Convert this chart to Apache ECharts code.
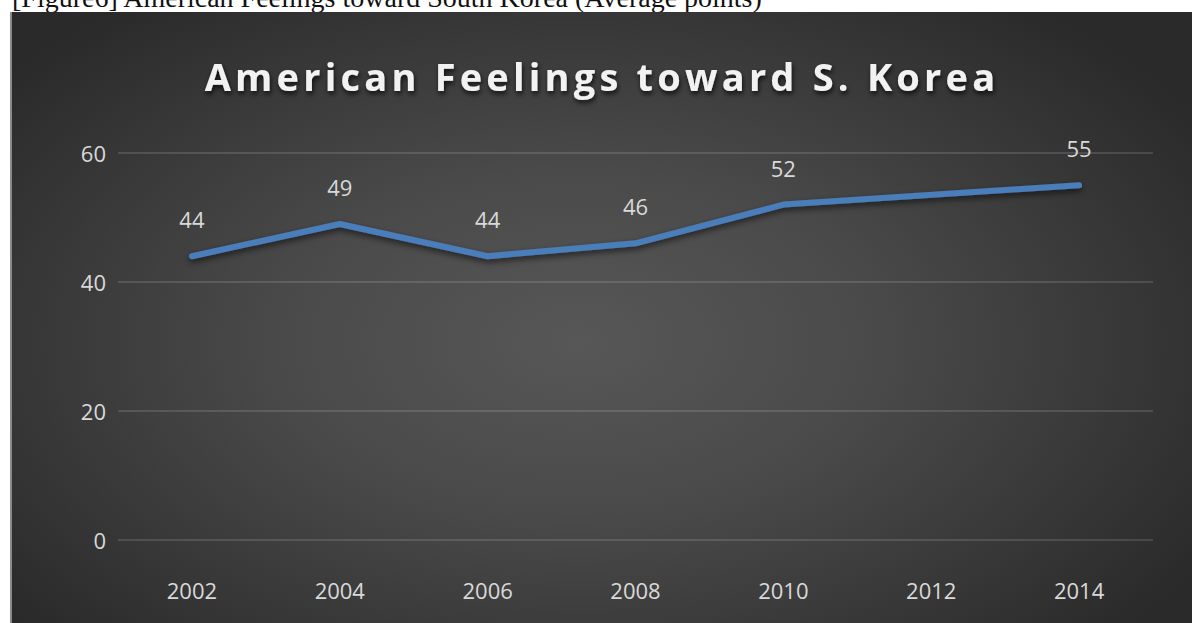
<!DOCTYPE html>
<html>
<head>
<meta charset="utf-8">
<script src="https://cdn.jsdelivr.net/npm/echarts@6/dist/echarts.min.js"></script>
<style>
  html, body { margin: 0; padding: 0; background: #ffffff; width: 1192px; height: 623px; overflow: hidden; }
  #caption {
    position: absolute; left: 12px; top: -18px;
    font-family: "Liberation Serif", "DejaVu Serif", serif;
    font-size: 28px; line-height: 32px; color: #111; white-space: nowrap;
  }
  #frame {
    position: absolute; left: 10px; top: 12px; width: 1182px; height: 611px;
    border-left: 2px solid #8a8a8a; box-sizing: border-box;
    background: radial-gradient(ellipse 62% 70% at 48% 54%, #575757 0%, #4a4a4a 40%, #393939 72%, #2a2a2a 100%);
  }
  #chart { position: absolute; left: 0; top: 0; width: 1180px; height: 611px; }
  /* widen the tracking of the chart heading */
  #chart text[style*="38px"] { letter-spacing: 4.2px; }
</style>
</head>
<body>
<div id="caption">[Figure6] American Feelings toward South Korea (Average points)</div>
<div id="frame"><div id="chart"></div></div>
<script>
// Survey years and average feeling scores (2012 has no reading)
const years = ['2002', '2004', '2006', '2008', '2010', '2012', '2014'];
const scores = [44, 49, 44, 46, 52, null, 55];
const yTicks = { min: 0, max: 60, interval: 20 };
const chartTitle = 'American Feelings toward S. Korea';

const font = '"Open Sans", "Noto Sans", sans-serif';
const chart = echarts.init(document.getElementById('chart'), null, { renderer: 'svg' });

chart.setOption({
  backgroundColor: 'transparent',
  animation: false,
  title: {
    text: chartTitle,
    left: 'center',
    top: 40,
    textStyle: {
      fontFamily: font,
      fontSize: 38,
      fontWeight: 'bold',
      color: '#f2f2f2',
      textShadowColor: 'rgba(0,0,0,0.75)',
      textShadowBlur: 5,
      textShadowOffsetX: 1,
      textShadowOffsetY: 3
    }
  },
  grid: { left: 106, right: 39, top: 141, bottom: 83 },
  xAxis: {
    type: 'category',
    data: years,
    boundaryGap: true,
    axisLine: { show: false },
    axisTick: { show: false },
    axisLabel: { color: '#d9d9d9', fontFamily: font, fontSize: 22, margin: 39 }
  },
  yAxis: {
    type: 'value',
    min: yTicks.min,
    max: yTicks.max,
    interval: yTicks.interval,
    axisLine: { show: false },
    axisTick: { show: false },
    axisLabel: { color: '#d9d9d9', fontFamily: font, fontSize: 22, margin: 12 },
    splitLine: { lineStyle: { color: 'rgba(255,255,255,0.13)', width: 2 } }
  },
  series: [{
    type: 'line',
    data: scores,
    connectNulls: true,
    symbol: 'circle',
    symbolSize: 0,
    showSymbol: true,
    itemStyle: { color: '#4a7ebb' },
    lineStyle: {
      color: '#4a7ebb',
      width: 6,
      cap: 'round',
      join: 'round',
      shadowColor: 'rgba(0,0,0,0.6)',
      shadowBlur: 6,
      shadowOffsetY: 3
    },
    label: {
      show: true,
      position: 'top',
      distance: 26,
      color: '#d9d9d9',
      fontFamily: font,
      fontSize: 22
    }
  }]
});
</script>
</body>
</html>
